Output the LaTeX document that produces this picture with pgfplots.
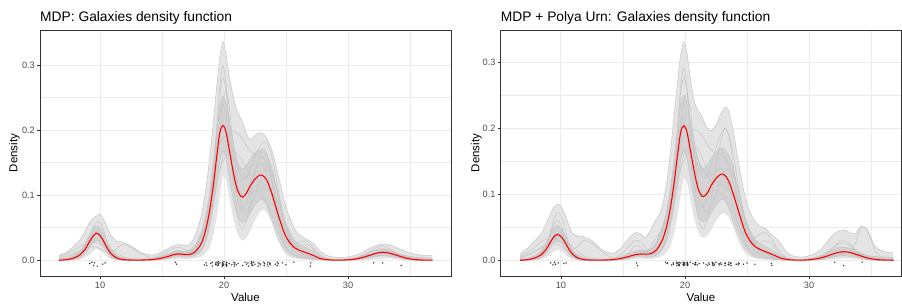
\documentclass[border=0pt]{standalone}
\usepackage{pgfplots}
\pgfplotsset{compat=1.18}
\usepackage{pgfplotstable}
\usepackage{fontspec}
\setmainfont{Liberation Sans}
\definecolor{gridc}{HTML}{EBEBEB}
\definecolor{borderc}{HTML}{333333}
\definecolor{tickc}{HTML}{4D4D4D}
\definecolor{outerc}{HTML}{E4E4E4}
\definecolor{innerc}{HTML}{D3D3D3}
\definecolor{linec}{HTML}{C6C6C6}

% x, mean, outer low/high, inner low/high, sample draws a-h
\pgfplotstableread{
x m olo ohi ilo ihi a b c d e f g h
6.7 0 0 0.008 0 0.002 0.001 0.003 0.000 0.006 0.001 0.002 0.000 0.004
7.3 0.0009 0 0.012 0.0003 0.003 0.001 0.005 0.001 0.010 0.002 0.003 0.001 0.007
7.9 0.0035 0 0.022 0.001 0.007 0.003 0.009 0.004 0.016 0.005 0.006 0.003 0.011
8.4 0.0085 0.001 0.032 0.004 0.014 0.008 0.014 0.010 0.021 0.011 0.010 0.008 0.015
8.8 0.017 0.004 0.045 0.010 0.026 0.018 0.020 0.020 0.025 0.022 0.016 0.017 0.018
9.1 0.027 0.008 0.056 0.018 0.037 0.032 0.025 0.030 0.027 0.035 0.023 0.028 0.020
9.4 0.036 0.013 0.064 0.026 0.047 0.048 0.029 0.039 0.028 0.046 0.030 0.039 0.021
9.7 0.0415 0.018 0.068 0.031 0.053 0.058 0.031 0.043 0.027 0.050 0.034 0.045 0.020
10.0 0.038 0.015 0.071 0.028 0.050 0.058 0.030 0.040 0.025 0.044 0.034 0.041 0.018
10.3 0.029 0.010 0.062 0.020 0.040 0.045 0.027 0.030 0.021 0.031 0.029 0.030 0.015
10.6 0.018 0.005 0.050 0.011 0.027 0.027 0.022 0.019 0.016 0.017 0.021 0.017 0.012
10.9 0.010 0.002 0.038 0.005 0.017 0.012 0.017 0.013 0.011 0.008 0.013 0.008 0.009
11.3 0.004 0 0.030 0.001 0.008 0.004 0.011 0.017 0.007 0.003 0.006 0.003 0.006
11.8 0.0012 0 0.028 0 0.003 0.001 0.006 0.024 0.003 0.001 0.002 0.001 0.004
12.5 0.0003 0 0.022 0 0.001 0 0.002 0.020 0.001 0.001 0.001 0 0.003
13.3 0.0003 0 0.012 0 0.001 0 0.001 0.010 0.001 0.001 0.001 0 0.002
14.2 0.001 0 0.008 0 0.003 0.001 0.002 0.003 0.002 0.003 0.002 0.001 0.002
14.9 0.003 0 0.012 0.001 0.006 0.003 0.004 0.002 0.005 0.008 0.004 0.002 0.003
15.5 0.006 0.001 0.018 0.003 0.010 0.007 0.007 0.004 0.008 0.014 0.007 0.004 0.005
16.0 0.009 0.002 0.023 0.005 0.014 0.012 0.009 0.008 0.010 0.019 0.009 0.007 0.007
16.4 0.0097 0.002 0.024 0.006 0.015 0.014 0.010 0.009 0.011 0.020 0.010 0.008 0.008
16.8 0.0088 0.002 0.023 0.005 0.013 0.011 0.010 0.008 0.012 0.017 0.010 0.008 0.010
17.2 0.0088 0.002 0.024 0.005 0.014 0.008 0.012 0.007 0.015 0.012 0.012 0.009 0.013
17.6 0.012 0.003 0.035 0.007 0.019 0.008 0.019 0.010 0.022 0.010 0.018 0.013 0.018
17.9 0.018 0.004 0.050 0.010 0.028 0.010 0.030 0.016 0.031 0.012 0.026 0.020 0.024
18.2 0.027 0.006 0.072 0.016 0.042 0.016 0.045 0.026 0.043 0.018 0.038 0.031 0.032
18.5 0.045 0.010 0.105 0.028 0.066 0.030 0.064 0.045 0.060 0.030 0.057 0.050 0.045
18.8 0.072 0.018 0.150 0.047 0.100 0.060 0.085 0.075 0.085 0.052 0.088 0.082 0.062
19.1 0.110 0.035 0.205 0.078 0.145 0.115 0.105 0.118 0.115 0.090 0.130 0.130 0.085
19.4 0.158 0.065 0.265 0.118 0.198 0.195 0.125 0.175 0.150 0.145 0.175 0.200 0.112
19.65 0.195 0.100 0.310 0.152 0.238 0.265 0.140 0.222 0.175 0.200 0.203 0.255 0.138
19.9 0.207 0.130 0.336 0.168 0.252 0.300 0.152 0.240 0.188 0.245 0.210 0.280 0.160
20.15 0.198 0.125 0.318 0.158 0.242 0.270 0.160 0.225 0.190 0.260 0.205 0.265 0.170
20.4 0.172 0.100 0.285 0.130 0.215 0.205 0.165 0.185 0.182 0.240 0.200 0.220 0.168
20.7 0.140 0.068 0.255 0.098 0.185 0.130 0.168 0.138 0.168 0.185 0.198 0.165 0.158
21.0 0.113 0.045 0.232 0.074 0.158 0.078 0.165 0.100 0.152 0.130 0.196 0.125 0.145
21.25 0.101 0.034 0.222 0.063 0.145 0.055 0.160 0.083 0.140 0.097 0.192 0.106 0.133
21.5 0.097 0.030 0.212 0.058 0.140 0.048 0.152 0.078 0.132 0.078 0.185 0.100 0.125
21.8 0.103 0.034 0.195 0.062 0.145 0.060 0.142 0.088 0.128 0.072 0.176 0.102 0.128
22.1 0.114 0.044 0.185 0.072 0.155 0.090 0.132 0.110 0.124 0.080 0.168 0.106 0.140
22.5 0.125 0.062 0.192 0.085 0.165 0.135 0.124 0.138 0.118 0.100 0.162 0.108 0.160
22.9 0.131 0.075 0.196 0.093 0.170 0.165 0.120 0.150 0.113 0.122 0.160 0.104 0.176
23.2 0.129 0.078 0.194 0.092 0.168 0.172 0.117 0.145 0.110 0.135 0.156 0.096 0.182
23.5 0.121 0.072 0.186 0.084 0.160 0.160 0.112 0.128 0.108 0.140 0.145 0.082 0.178
23.85 0.103 0.058 0.170 0.068 0.142 0.125 0.100 0.100 0.104 0.134 0.122 0.062 0.160
24.25 0.077 0.035 0.140 0.047 0.110 0.075 0.082 0.066 0.092 0.110 0.088 0.040 0.122
24.6 0.056 0.020 0.112 0.031 0.083 0.042 0.063 0.042 0.075 0.080 0.060 0.025 0.085
24.9 0.040 0.011 0.088 0.020 0.062 0.024 0.047 0.030 0.058 0.056 0.040 0.016 0.058
25.3 0.027 0.005 0.065 0.012 0.043 0.012 0.031 0.024 0.039 0.034 0.023 0.009 0.035
25.7 0.019 0.003 0.048 0.008 0.030 0.007 0.020 0.025 0.025 0.020 0.013 0.005 0.024
26.0 0.016 0.002 0.040 0.006 0.025 0.005 0.014 0.028 0.017 0.014 0.009 0.004 0.021
26.5 0.0125 0.001 0.034 0.004 0.021 0.004 0.008 0.030 0.010 0.010 0.006 0.003 0.024
26.9 0.0097 0.001 0.030 0.003 0.017 0.003 0.005 0.026 0.006 0.007 0.004 0.002 0.022
27.3 0.0065 0 0.024 0.002 0.012 0.002 0.003 0.017 0.003 0.004 0.003 0.001 0.015
27.7 0.003 0 0.015 0.001 0.006 0.001 0.002 0.008 0.002 0.002 0.002 0.001 0.008
28.2 0.0012 0 0.008 0 0.003 0.001 0.001 0.003 0.001 0.001 0.001 0.001 0.003
28.8 0.0003 0 0.005 0 0.001 0.001 0.001 0.001 0.001 0.001 0.001 0.001 0.001
29.5 0.0002 0 0.004 0 0.001 0.001 0.001 0.001 0.001 0.001 0.001 0.001 0.001
30.2 0.001 0 0.006 0 0.002 0.002 0.002 0.001 0.002 0.002 0.001 0.001 0.002
30.8 0.0025 0 0.009 0.001 0.005 0.004 0.003 0.002 0.004 0.005 0.003 0.002 0.003
31.3 0.005 0.001 0.014 0.002 0.008 0.008 0.005 0.004 0.006 0.009 0.005 0.003 0.005
31.8 0.008 0.001 0.019 0.004 0.012 0.014 0.007 0.007 0.008 0.013 0.008 0.005 0.007
32.3 0.011 0.002 0.023 0.006 0.016 0.020 0.009 0.010 0.010 0.016 0.011 0.007 0.009
32.8 0.0123 0.003 0.025 0.007 0.018 0.022 0.010 0.013 0.011 0.015 0.013 0.008 0.011
33.3 0.011 0.003 0.024 0.006 0.016 0.018 0.010 0.013 0.010 0.012 0.013 0.008 0.012
33.7 0.009 0.002 0.021 0.005 0.013 0.013 0.009 0.011 0.009 0.008 0.011 0.007 0.011
34.2 0.006 0.001 0.017 0.003 0.009 0.007 0.007 0.008 0.008 0.004 0.008 0.005 0.009
34.7 0.0032 0 0.013 0.001 0.006 0.003 0.005 0.004 0.006 0.002 0.005 0.003 0.007
35.3 0.0013 0 0.010 0 0.003 0.001 0.003 0.002 0.005 0.001 0.003 0.001 0.005
35.9 0.0004 0 0.008 0 0.002 0 0.002 0.001 0.004 0 0.002 0.001 0.004
36.8 0.0001 0 0.007 0 0.001 0 0.001 0 0.003 0 0.001 0 0.003
}\leftdata

\pgfplotstableread{
x m olo ohi ilo ihi a b c d e f g h
6.7 0 0 0.010 0 0.002 0.001 0.004 0.000 0.007 0.001 0.002 0.000 0.005
7.3 0.0009 0 0.018 0.0003 0.003 0.001 0.007 0.001 0.012 0.002 0.003 0.001 0.009
7.9 0.0035 0 0.030 0.001 0.007 0.003 0.012 0.004 0.020 0.005 0.006 0.003 0.014
8.4 0.0083 0.001 0.040 0.004 0.014 0.010 0.018 0.009 0.028 0.012 0.010 0.010 0.019
8.8 0.0165 0.004 0.055 0.010 0.026 0.022 0.025 0.018 0.032 0.024 0.016 0.022 0.023
9.1 0.026 0.008 0.068 0.018 0.037 0.040 0.030 0.028 0.034 0.038 0.023 0.038 0.025
9.4 0.035 0.013 0.080 0.025 0.047 0.060 0.034 0.036 0.033 0.049 0.030 0.053 0.025
9.7 0.0394 0.016 0.085 0.029 0.052 0.072 0.036 0.040 0.031 0.053 0.034 0.060 0.024
10.0 0.036 0.014 0.082 0.026 0.049 0.068 0.035 0.040 0.028 0.046 0.034 0.054 0.021
10.3 0.028 0.009 0.070 0.019 0.039 0.050 0.032 0.033 0.024 0.032 0.029 0.038 0.017
10.6 0.018 0.005 0.055 0.011 0.027 0.028 0.027 0.024 0.019 0.017 0.021 0.021 0.013
10.9 0.010 0.002 0.042 0.005 0.017 0.012 0.021 0.018 0.014 0.008 0.013 0.010 0.009
11.3 0.004 0 0.037 0.001 0.008 0.004 0.014 0.020 0.009 0.003 0.006 0.004 0.006
11.8 0.0012 0 0.036 0 0.003 0.001 0.007 0.030 0.004 0.001 0.002 0.001 0.004
12.5 0.0003 0 0.030 0 0.001 0 0.003 0.026 0.001 0.001 0.001 0 0.003
13.3 0.0003 0 0.016 0 0.001 0 0.001 0.013 0.001 0.001 0.001 0 0.002
14.2 0.001 0 0.010 0 0.003 0.001 0.002 0.003 0.002 0.003 0.002 0.001 0.002
14.9 0.003 0 0.020 0.001 0.006 0.004 0.003 0.002 0.006 0.010 0.004 0.002 0.003
15.5 0.006 0.001 0.034 0.003 0.010 0.012 0.006 0.004 0.010 0.022 0.007 0.004 0.005
16.0 0.0085 0.002 0.042 0.005 0.014 0.022 0.008 0.007 0.012 0.030 0.009 0.007 0.007
16.4 0.0095 0.002 0.040 0.006 0.015 0.020 0.010 0.009 0.013 0.028 0.010 0.008 0.008
16.8 0.0093 0.002 0.035 0.005 0.014 0.012 0.012 0.012 0.014 0.019 0.012 0.008 0.010
17.2 0.0098 0.002 0.045 0.005 0.016 0.008 0.016 0.020 0.016 0.012 0.016 0.009 0.013
17.6 0.014 0.003 0.060 0.007 0.022 0.009 0.024 0.032 0.022 0.010 0.024 0.013 0.018
17.9 0.021 0.004 0.068 0.011 0.031 0.012 0.036 0.040 0.031 0.012 0.034 0.020 0.024
18.2 0.032 0.007 0.085 0.018 0.048 0.020 0.052 0.052 0.043 0.018 0.048 0.031 0.032
18.5 0.050 0.011 0.115 0.030 0.072 0.036 0.072 0.070 0.060 0.030 0.068 0.050 0.045
18.8 0.077 0.020 0.160 0.050 0.106 0.068 0.093 0.098 0.085 0.052 0.098 0.082 0.062
19.1 0.114 0.038 0.215 0.080 0.150 0.125 0.112 0.135 0.118 0.090 0.138 0.130 0.085
19.4 0.160 0.068 0.270 0.120 0.200 0.200 0.128 0.182 0.152 0.145 0.178 0.200 0.112
19.65 0.194 0.100 0.312 0.152 0.238 0.262 0.140 0.210 0.176 0.200 0.202 0.255 0.138
19.9 0.204 0.125 0.331 0.165 0.250 0.292 0.150 0.215 0.190 0.240 0.208 0.275 0.160
20.15 0.195 0.120 0.315 0.155 0.240 0.262 0.158 0.195 0.192 0.252 0.204 0.258 0.170
20.4 0.170 0.095 0.280 0.128 0.213 0.195 0.165 0.160 0.185 0.232 0.200 0.212 0.168
20.7 0.139 0.066 0.245 0.097 0.183 0.120 0.172 0.122 0.172 0.180 0.198 0.160 0.158
21.0 0.112 0.045 0.228 0.073 0.157 0.072 0.170 0.094 0.155 0.128 0.196 0.122 0.145
21.25 0.100 0.036 0.222 0.062 0.144 0.052 0.162 0.082 0.142 0.096 0.192 0.104 0.133
21.5 0.0965 0.034 0.212 0.058 0.139 0.048 0.150 0.082 0.133 0.078 0.185 0.098 0.125
21.8 0.102 0.038 0.200 0.062 0.144 0.062 0.138 0.095 0.127 0.072 0.176 0.100 0.130
22.1 0.113 0.046 0.196 0.072 0.154 0.095 0.128 0.115 0.122 0.080 0.168 0.104 0.145
22.5 0.124 0.060 0.205 0.084 0.164 0.145 0.120 0.135 0.116 0.100 0.162 0.106 0.170
22.9 0.1305 0.070 0.222 0.092 0.170 0.180 0.116 0.140 0.112 0.122 0.160 0.102 0.192
23.2 0.129 0.072 0.232 0.091 0.168 0.200 0.113 0.130 0.110 0.135 0.156 0.094 0.200
23.5 0.121 0.066 0.228 0.083 0.160 0.190 0.108 0.112 0.108 0.140 0.145 0.080 0.192
23.85 0.103 0.052 0.200 0.067 0.142 0.150 0.098 0.085 0.104 0.134 0.122 0.060 0.165
24.25 0.078 0.032 0.155 0.047 0.110 0.090 0.082 0.058 0.093 0.110 0.088 0.040 0.120
24.6 0.057 0.018 0.118 0.031 0.083 0.048 0.066 0.040 0.077 0.080 0.060 0.025 0.082
24.9 0.041 0.010 0.092 0.020 0.062 0.026 0.050 0.030 0.060 0.056 0.040 0.016 0.056
25.3 0.028 0.005 0.070 0.012 0.043 0.012 0.034 0.028 0.041 0.034 0.023 0.009 0.036
25.7 0.020 0.003 0.058 0.008 0.031 0.006 0.023 0.034 0.026 0.020 0.013 0.005 0.028
26.0 0.017 0.002 0.052 0.006 0.026 0.004 0.016 0.040 0.018 0.014 0.009 0.004 0.027
26.5 0.013 0.001 0.048 0.004 0.021 0.003 0.010 0.042 0.011 0.010 0.006 0.003 0.030
26.9 0.0100 0.001 0.040 0.003 0.017 0.002 0.006 0.034 0.007 0.007 0.004 0.002 0.026
27.3 0.0068 0 0.034 0.002 0.012 0.002 0.004 0.022 0.004 0.004 0.003 0.001 0.018
27.7 0.0035 0 0.026 0.001 0.007 0.001 0.002 0.011 0.002 0.002 0.002 0.001 0.009
28.2 0.0013 0 0.012 0 0.003 0.001 0.001 0.004 0.001 0.001 0.001 0.001 0.003
28.8 0.0004 0 0.006 0 0.001 0.001 0.001 0.001 0.001 0.001 0.001 0.001 0.001
29.5 0.0003 0 0.005 0 0.001 0.001 0.001 0.001 0.001 0.001 0.001 0.001 0.001
30.2 0.0012 0 0.008 0 0.003 0.002 0.002 0.001 0.003 0.002 0.002 0.001 0.002
30.8 0.003 0 0.014 0.001 0.006 0.004 0.004 0.002 0.006 0.005 0.005 0.002 0.003
31.3 0.0055 0.001 0.024 0.002 0.009 0.008 0.006 0.004 0.010 0.009 0.010 0.003 0.005
31.8 0.0088 0.001 0.036 0.004 0.014 0.015 0.009 0.006 0.016 0.013 0.018 0.005 0.007
32.3 0.0118 0.002 0.044 0.006 0.018 0.026 0.011 0.008 0.020 0.016 0.024 0.007 0.009
32.8 0.013 0.003 0.046 0.007 0.020 0.030 0.012 0.010 0.020 0.015 0.026 0.008 0.011
33.3 0.0118 0.003 0.042 0.006 0.018 0.025 0.011 0.014 0.016 0.012 0.022 0.008 0.012
33.7 0.0095 0.002 0.040 0.005 0.015 0.016 0.010 0.024 0.012 0.008 0.016 0.007 0.011
34.2 0.0065 0.001 0.052 0.003 0.011 0.008 0.008 0.050 0.009 0.004 0.010 0.005 0.009
34.7 0.0035 0 0.046 0.001 0.007 0.003 0.006 0.044 0.007 0.002 0.006 0.003 0.007
35.3 0.0015 0 0.022 0 0.004 0.001 0.004 0.016 0.006 0.001 0.003 0.001 0.005
35.9 0.0005 0 0.014 0 0.002 0 0.003 0.004 0.005 0 0.002 0.001 0.004
36.8 0.0001 0 0.011 0 0.001 0 0.002 0.001 0.004 0 0.001 0 0.003
}\rightdata

% galaxies velocities (1000 km/s) with small vertical jitter for each panel
\pgfplotstableread{
v j1 j2
9.172 -0.005 -0.004
9.350 -0.003 -0.007
9.483 -0.008 -0.003
9.558 -0.004 -0.006
9.775 -0.009 -0.004
10.227 -0.006 -0.005
10.406 -0.004 -0.004
16.084 -0.003 -0.004
16.170 -0.006 -0.008
18.419 -0.007 -0.003
18.552 -0.004 -0.005
18.600 -0.008 -0.004
18.927 -0.005 -0.007
19.052 -0.003 -0.004
19.070 -0.009 -0.006
19.330 -0.006 -0.003
19.343 -0.004 -0.008
19.349 -0.007 -0.005
19.440 -0.003 -0.004
19.473 -0.008 -0.007
19.529 -0.005 -0.003
19.541 -0.002 -0.006
19.547 -0.007 -0.008
19.663 -0.004 -0.004
19.846 -0.009 -0.006
19.856 -0.006 -0.003
19.863 -0.003 -0.007
19.914 -0.008 -0.005
19.918 -0.005 -0.008
19.973 -0.007 -0.004
19.989 -0.002 -0.006
20.166 -0.006 -0.003
20.175 -0.009 -0.007
20.179 -0.004 -0.005
20.196 -0.007 -0.004
20.215 -0.003 -0.008
20.221 -0.008 -0.006
20.415 -0.005 -0.003
20.629 -0.007 -0.005
20.795 -0.003 -0.007
20.821 -0.006 -0.004
20.846 -0.009 -0.006
20.875 -0.004 -0.003
20.986 -0.007 -0.007
21.137 -0.005 -0.005
21.492 -0.008 -0.004
21.701 -0.003 -0.006
21.814 -0.006 -0.008
21.921 -0.004 -0.004
21.960 -0.009 -0.006
22.185 -0.005 -0.003
22.209 -0.002 -0.007
22.242 -0.007 -0.005
22.249 -0.004 -0.004
22.314 -0.008 -0.008
22.374 -0.003 -0.006
22.495 -0.006 -0.003
22.746 -0.004 -0.005
22.747 -0.009 -0.007
22.888 -0.005 -0.004
22.914 -0.007 -0.006
23.206 -0.003 -0.005
23.241 -0.008 -0.008
23.263 -0.005 -0.004
23.484 -0.006 -0.006
23.538 -0.003 -0.003
23.542 -0.009 -0.007
23.666 -0.004 -0.005
23.706 -0.007 -0.004
23.711 -0.005 -0.008
24.129 -0.006 -0.006
24.285 -0.003 -0.004
24.289 -0.008 -0.007
24.366 -0.005 -0.005
24.717 -0.004 -0.006
24.990 -0.007 -0.004
25.633 -0.003 -0.006
26.960 -0.009 -0.005
26.995 -0.004 -0.008
32.065 -0.004 -0.003
32.789 -0.004 -0.008
34.279 -0.008 -0.003
}\galdata

\pgfplotsset{
  mdp/.style={
    scale only axis, anchor=south west,
    axis line style={draw=borderc, line width=0.9bp},
    xtick={10,20,30}, ytick={0,0.1,0.2,0.3},
    xticklabels={10,20,30}, yticklabels={0.0,0.1,0.2,0.3},
    minor xtick={5,15,25,35}, minor ytick={0.05,0.15,0.25},
    grid=both,
    major grid style={draw=gridc, line width=1bp},
    minor grid style={draw=gridc, line width=0.5bp},
    tick align=outside, major tick length=3bp, minor tick length=0pt,
    tick style={draw=borderc, line width=0.9bp},
    xtick pos=bottom, ytick pos=left,
    ticklabel style={font=\fontsize{9.2bp}{10bp}\selectfont, text=tickc},
    xticklabel style={inner sep=0pt, anchor=north, yshift=-2.5bp},
    yticklabel style={inner sep=0pt, anchor=east, xshift=-2bp},
  },
  basepath/.style={draw=none, fill=none, forget plot, stack plots=y},
  bandfill/.style={draw=none, fill=#1, forget plot, stack plots=y},
  sampleline/.style={draw=linec, line width=0.5bp, smooth, tension=0.5},
  meanline/.style={draw=red, line width=1.1bp, smooth, tension=0.5},
  datapts/.style={only marks, mark=*, mark size=0.55bp, mark options={fill=black!70, draw=none}, opacity=0.65},
}

\newcommand{\panel}[2]{%
\addplot[basepath] table[x=x,y=olo]{#1};
\addplot[bandfill=outerc] table[x=x,y expr=\thisrow{ohi}-\thisrow{olo}]{#1} \closedcycle;
\addplot[basepath] table[x=x,y expr=\thisrow{ilo}-\thisrow{ohi}]{#1};
\addplot[bandfill=innerc] table[x=x,y expr=\thisrow{ihi}-\thisrow{ilo}]{#1} \closedcycle;
\addplot[sampleline] table[x=x,y=ohi]{#1};
\addplot[sampleline] table[x=x,y=ihi]{#1};
\addplot[sampleline] table[x=x,y=ilo]{#1};
\addplot[sampleline] table[x=x,y=a]{#1};
\addplot[sampleline] table[x=x,y=b]{#1};
\addplot[sampleline] table[x=x,y=c]{#1};
\addplot[sampleline] table[x=x,y=d]{#1};
\addplot[sampleline] table[x=x,y=e]{#1};
\addplot[sampleline] table[x=x,y=f]{#1};
\addplot[sampleline] table[x=x,y=g]{#1};
\addplot[sampleline] table[x=x,y=h]{#1};
\addplot[meanline] table[x=x,y=m]{#1};
\addplot[datapts] table[x=v,y=#2]{\galdata};
}

\begin{document}
\begin{tikzpicture}[x=1bp,y=1bp]
\useasboundingbox (0,0) rectangle (902,303);
\begin{axis}[mdp, at={(40bp,27bp)}, width=411bp, height=246bp,
  xmin=5.16, xmax=38.3, ymin=-0.0242, ymax=0.354]
\panel{\leftdata}{j1}
\end{axis}
\begin{axis}[mdp, at={(500.7bp,27bp)}, width=400.6bp, height=245.3bp,
  xmin=5.14, xmax=37.44, ymin=-0.0238, ymax=0.348]
\panel{\rightdata}{j2}
\end{axis}
\node[anchor=base west, inner sep=0pt, font=\fontsize{13.8bp}{16bp}\selectfont] at (40,281) {MDP: Galaxies density function};
\node[anchor=base west, inner sep=0pt, font=\fontsize{13.8bp}{16bp}\selectfont] at (500.7,281) {MDP + Polya Urn: Galaxies density function};
\node[anchor=base, inner sep=0pt, font=\fontsize{11.5bp}{13bp}\selectfont] at (245.5,1.5) {Value};
\node[anchor=base, inner sep=0pt, font=\fontsize{11.5bp}{13bp}\selectfont] at (701,1.5) {Value};
\node[anchor=base, rotate=90, inner sep=0pt, font=\fontsize{11.5bp}{13bp}\selectfont] at (17.3,150) {Density};
\node[anchor=base, rotate=90, inner sep=0pt, font=\fontsize{11.5bp}{13bp}\selectfont] at (479.3,150) {Density};
\end{tikzpicture}
\end{document}
